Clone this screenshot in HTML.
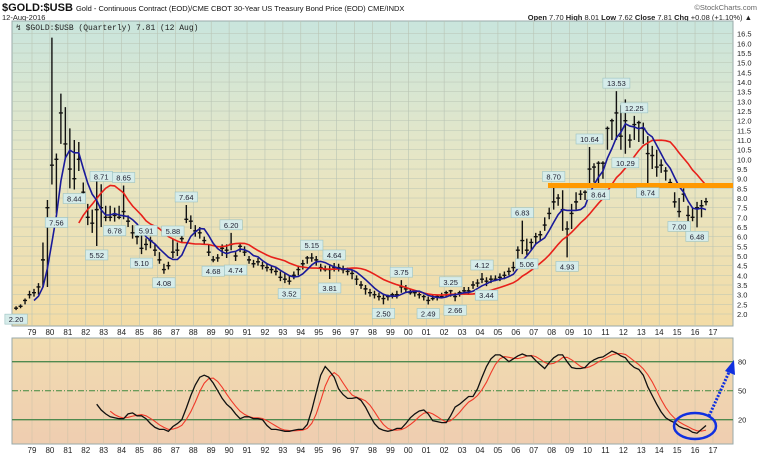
<!DOCTYPE html>
<html><head><meta charset="utf-8"><style>
html,body{margin:0;padding:0;background:#fff;width:765px;height:456px;overflow:hidden}
svg{display:block;font-family:"Liberation Sans",sans-serif}
</style></head><body>
<svg id="chart" width="765" height="456" viewBox="0 0 765 456">
<defs>
<linearGradient id="gTop" x1="0" y1="0" x2="0" y2="1"><stop offset="0" stop-color="#c9e5dd"/><stop offset="0.45" stop-color="#e6e6c6"/><stop offset="1" stop-color="#f3dca6"/></linearGradient>
<linearGradient id="gBot" x1="0" y1="0" x2="0" y2="1"><stop offset="0" stop-color="#f1dcb0"/><stop offset="1" stop-color="#efcdb0"/></linearGradient>
</defs>
<text x="2" y="11" font-size="11" font-weight="bold" fill="#111">$GOLD:$USB <tspan font-size="7.5" font-weight="normal">Gold - Continuous Contract (EOD)/CME CBOT 30-Year US Treasury Bond Price (EOD) CME/INDX</tspan></text>
<text x="2" y="20" font-size="7.5" fill="#222">12-Aug-2016</text>
<text x="757" y="10" font-size="7.5" fill="#666" text-anchor="end">©StockCharts.com</text>
<text x="752" y="20" font-size="7.5" fill="#222" text-anchor="end"><tspan font-weight="bold">Open</tspan> 7.70 <tspan font-weight="bold">High</tspan> 8.01 <tspan font-weight="bold">Low</tspan> 7.62 <tspan font-weight="bold">Close</tspan> 7.81 <tspan font-weight="bold">Chg</tspan> +0.08 (+1.10%) ▲</text>
<rect x="12" y="21" width="721" height="305" fill="url(#gTop)" stroke="#9aa" stroke-width="1"/>
<rect x="12" y="338" width="721" height="106" fill="url(#gBot)" stroke="#9aa" stroke-width="1"/>
<g id="grid"></g>
<g id="marks"></g>
<text x="16" y="30" font-size="8" fill="#222" font-family="Liberation Mono,monospace">↯ $GOLD:$USB (Quarterly) 7.81 (12 Aug)</text>
</svg>
<script>
const closes=[2.3,2.4,2.7,3.0,3.1,3.4,4.8,7.5,9.7,10.0,12.4,10.8,9.5,9.0,10.0,8.3,7.0,6.7,7.4,7.5,7.0,7.0,7.1,7.0,7.3,6.8,6.2,6.0,5.4,5.6,5.8,5.3,4.8,4.3,4.5,5.2,5.3,5.9,6.9,6.8,6.3,6.2,5.8,5.2,4.8,4.9,5.4,5.3,5.6,5.0,5.5,5.2,4.8,4.6,4.7,4.5,4.4,4.3,4.2,3.9,3.8,3.7,4.0,4.3,4.6,4.9,4.9,4.8,4.4,4.3,4.3,4.4,4.4,4.3,4.2,4.1,3.8,3.5,3.3,3.1,3.0,2.9,2.8,2.9,3.0,3.0,3.4,3.3,3.1,3.1,3.0,2.9,2.7,2.8,2.9,2.9,3.1,3.2,2.9,3.1,3.2,3.2,3.5,3.6,3.8,3.7,3.8,3.8,3.9,4.0,4.2,4.4,5.3,5.8,5.3,5.7,6.0,6.1,6.6,7.2,7.8,8.0,7.4,6.4,7.2,7.8,8.2,8.3,9.5,9.6,9.8,9.8,11.6,12.0,12.4,11.2,12.0,11.0,11.8,11.9,11.6,10.3,10.2,9.6,9.7,9.4,8.8,7.8,7.3,8.2,7.1,7.0,7.5,7.6,7.81];
const highs=[2.4,2.5,2.8,3.2,3.3,3.6,5.7,7.9,16.3,10.3,13.4,12.7,11.6,11.0,10.9,8.8,7.7,7.4,8.9,8.71,7.6,7.6,7.5,7.6,8.65,7.1,6.6,6.3,6.3,5.91,6.0,5.6,5.2,4.6,4.7,5.88,5.7,6.2,7.64,7.1,6.6,6.5,6.0,5.6,5.0,5.1,5.6,5.6,6.2,5.2,5.7,5.5,5.0,4.8,4.9,4.7,4.6,4.5,4.4,4.2,4.1,4.0,4.2,4.5,4.8,5.0,5.15,5.0,4.6,4.5,4.5,4.64,4.6,4.5,4.4,4.3,4.0,3.7,3.5,3.3,3.2,3.1,3.0,3.0,3.1,3.2,3.75,3.5,3.3,3.2,3.1,3.0,2.9,3.0,3.0,3.1,3.2,3.25,3.1,3.2,3.4,3.4,3.7,3.8,4.12,3.9,4.0,4.0,4.1,4.2,4.4,4.7,5.5,6.83,5.9,5.9,6.2,6.3,7.0,7.5,8.70,8.2,8.4,6.8,7.7,8.3,8.4,8.4,10.64,9.8,9.9,9.9,11.7,12.1,13.53,12.8,13.1,11.3,12.25,12.0,11.9,11.2,10.7,10.5,10.0,9.6,9.0,8.3,8.0,8.5,7.6,7.5,7.8,7.9,8.01];
const lows=[2.2,2.3,2.5,2.8,2.9,3.0,3.4,3.4,8.7,7.2,10.8,10.0,8.5,8.44,9.4,7.8,6.6,6.2,5.52,6.5,6.8,6.8,6.78,6.9,6.9,6.5,5.9,5.6,5.1,5.3,5.4,5.0,4.6,4.08,4.3,4.9,5.0,5.7,6.7,6.4,6.0,5.9,5.6,5.0,4.68,4.7,5.0,4.9,5.3,4.74,5.2,5.0,4.6,4.4,4.5,4.3,4.2,4.1,4.0,3.7,3.6,3.52,3.8,4.0,4.3,4.6,4.7,4.5,4.2,4.2,3.81,4.2,4.2,4.1,4.0,3.8,3.5,3.3,3.0,2.9,2.8,2.7,2.50,2.7,2.8,2.8,3.1,3.1,3.0,2.9,2.8,2.7,2.49,2.7,2.7,2.8,2.9,2.9,2.66,2.9,3.0,3.0,3.3,3.4,3.6,3.44,3.6,3.7,3.7,3.8,4.0,4.2,4.6,5.1,5.06,5.3,5.6,5.8,6.3,6.9,7.4,7.6,6.3,4.93,6.4,7.4,7.9,7.9,8.7,8.8,8.64,9.0,10.5,11.0,11.0,10.5,10.29,10.6,11.0,10.9,10.8,8.74,9.5,9.1,9.3,8.9,8.6,7.5,7.00,7.8,6.8,6.8,6.48,7.0,7.62];
const yearLabels=["79","80","81","82","83","84","85","86","87","88","89","90","91","92","93","94","95","96","97","98","99","00","01","02","03","04","05","06","07","08","09","10","11","12","13","14","15","16","17"];
const priceTicks=[2.0,2.5,3.0,3.5,4.0,4.5,5.0,5.5,6.0,6.5,7.0,7.5,8.0,8.5,9.0,9.5,10.0,10.5,11.0,11.5,12.0,12.5,13.0,13.5,14.0,14.5,15.0,15.5,16.0,16.5];
const oscTicks=[80,50,20];
const oscStart=18;
const oscBlack=[36,30,26,23,22,21,21,26,27,24,24,21,16,12,10,10,8,13,16,20,32,45,56,64,66,64,58,50,42,36,32,26,21,23,23,21,21,20,14,10,10,9,8,8,9,10,10,15,30,48,66,75,70,64,52,46,42,42,43,40,33,24,16,11,9,8,9,11,11,16,22,26,29,30,26,19,18,17,17,24,33,36,40,44,44,52,64,75,83,87,87,84,80,83,86,88,86,86,81,77,73,79,84,87,87,80,74,73,73,74,79,82,84,85,88,91,89,86,84,78,74,72,66,54,45,36,28,22,19,17,13,11,10,7,6,10,14];
const labelIdx=[0,9,13,18,19,22,24,28,29,33,35,38,44,48,49,61,66,70,71,82,86,92,97,98,104,105,113,114,120,123,128,130,134,136,138,141,148,152];
const labelText=["2.20","7.56","8.44","5.52","8.71","6.78","8.65","5.10","5.91","4.08","5.88","7.64","4.68","6.20","4.74","3.52","5.15","3.81","4.64","2.50","3.75","2.49","3.25","2.66","4.12","3.44","6.83","5.06","8.70","4.93","10.64","8.64","13.53","10.29","12.25","8.74","7.00","6.48"];
const labelSide=[-1,-1,-1,-1,1,-1,1,-1,1,-1,1,1,-1,1,-1,-1,1,-1,1,-1,1,-1,1,-1,1,-1,1,-1,1,-1,1,-1,1,-1,1,-1,-1,-1];
const resistanceLevel=8.65;

const NS="http://www.w3.org/2000/svg";
const X=i=>34+4.48*(i-4);
const Y=v=>314-(v-2)*19.33;
const YO=v=>419.7-(v-20)*0.9667;
const yearX=k=>32+17.92*k;
const grid=document.getElementById('grid'), marks=document.getElementById('marks');
function mk(tag,attrs,parent){const e=document.createElementNS(NS,tag);for(const k in attrs)e.setAttribute(k,attrs[k]);(parent||marks).appendChild(e);return e;}
// grid
yearLabels.forEach((t,k)=>{
  const l1=mk('line',{x1:yearX(k),x2:yearX(k),y1:21,y2:326,stroke:'#b9c4b4','stroke-width':0.6},grid);
  
  
  const l2=mk('line',{x1:yearX(k),x2:yearX(k),y1:338,y2:444,stroke:'#cfc3a8','stroke-width':0.6},grid);
  
  
  [335,453].forEach(yy=>{
    const tx=mk('text',{x:yearX(k),y:yy,'font-size':8,'text-anchor':'middle',fill:'#222'},grid);
    tx.textContent=t;
    
    
  });
});
priceTicks.forEach(v=>{
  const l=mk('line',{x1:12,x2:733,y1:Y(v),y2:Y(v),stroke:'#b9c4b4','stroke-width':0.5},grid);
  
  
  const t=mk('text',{x:737,y:Y(v)+3,'font-size':7.5,fill:'#222'},grid);
  t.textContent=v.toFixed(1);
  
  
});
// MAs
function sma(arr,n){return arr.map((_,i)=>i<n-1?null:arr.slice(i-n+1,i+1).reduce((a,b)=>a+b,0)/n);}
function pathFrom(vals,xf,yf,off){let d='';vals.forEach((v,i)=>{if(v==null)return;d+=(d?'L':'M')+xf(i+off).toFixed(1)+','+yf(v).toFixed(1);});return d;}
// bars
closes.forEach((c,i)=>{
  const x=X(i);
  const b=mk('path',{d:`M${x},${Y(highs[i])}V${Y(lows[i])}M${x-2},${Y(c)}H${x+2}`,stroke:'#111','stroke-width':1.4,fill:'none'});
  
  
});
const red=mk('path',{d:pathFrom(sma(closes,15),X,Y,0),stroke:'#e8201a','stroke-width':1.6,fill:'none'});


const blue=mk('path',{d:pathFrom(sma(closes,5),X,Y,0),stroke:'#1a1a9a','stroke-width':1.6,fill:'none'});


// resistance
const res=mk('line',{x1:548,x2:733,y1:Y(resistanceLevel),y2:Y(resistanceLevel),stroke:'#ff9900','stroke-width':5});


// labels
labelIdx.forEach((idx,k)=>{
  const txt=labelText[k];const w=txt.length*4.6+4;const x=X(idx);
  const yc=labelSide[k]>0?Y(highs[idx])-8:Y(lows[idx])+9;
  const g=mk('g',{});
  
  
  mk('rect',{x:x-w/2,y:yc-5,width:w,height:10,fill:'#d6ecea',stroke:'#9cc3c3','stroke-width':0.6},g);
  const t=mk('text',{x:x,y:yc+3,'font-size':7.5,'text-anchor':'middle',fill:'#223'},g);
  t.textContent=txt;
});
// oscillator
[80,20].forEach(v=>{
  const l=mk('line',{x1:12,x2:733,y1:YO(v),y2:YO(v),stroke:'#4f8a4f','stroke-width':1.3});
  
  
});
const mid=mk('line',{x1:12,x2:733,y1:YO(50),y2:YO(50),stroke:'#3f8a3f','stroke-width':1,'stroke-dasharray':'6,2,1,2'});


oscTicks.forEach(v=>{
  const t=mk('text',{x:738,y:YO(v)+3,'font-size':7.5,fill:'#222'});
  t.textContent=String(v);
  
  
});
const oRed=mk('path',{d:pathFrom(sma(oscBlack,4),X,YO,oscStart),stroke:'#f03a2a','stroke-width':1.1,fill:'none'});


const oBlk=mk('path',{d:pathFrom(oscBlack,X,YO,oscStart),stroke:'#111','stroke-width':1.3,fill:'none'});


// annotations
const ell=mk('ellipse',{cx:695,cy:426,rx:21,ry:13,fill:'none',stroke:'#1030e0','stroke-width':2.5});


const arr=mk('line',{x1:709,y1:416,x2:730,y2:370,stroke:'#1030e0','stroke-width':3,'stroke-dasharray':'2,1.5'});


const head=mk('polygon',{points:'734,360 725,371 735,375',fill:'#1030e0'});


</script>
</body></html>
